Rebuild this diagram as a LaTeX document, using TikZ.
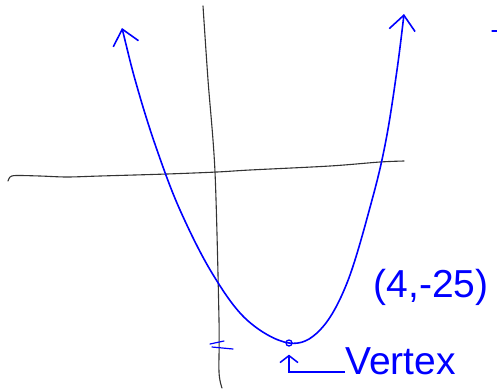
\documentclass[tikz,border=0pt]{standalone}
\usepackage{fontspec}
\setmainfont{Liberation Sans}
\usetikzlibrary{arrows.meta,positioning}

\begin{document}
\begin{tikzpicture}[
  x=1pt, y=-1pt,
  axis/.style={line width=1.1pt, black!80, line cap=round},
  curve/.style={line width=1.6pt, blue, line cap=round, line join=round},
  ends/.style={{Straight Barb[length=15pt,width=26pt]}-{Straight Barb[length=15pt,width=26pt]}},
  pointer/.style={-{Straight Barb[length=7pt,width=18pt]}, line width=1.5pt, blue},
  note/.style={blue, inner sep=0pt, font=\fontsize{39}{39}\selectfont},
  vdot/.style={circle, draw=blue, line width=1.3pt, minimum size=6pt, inner sep=0pt},
]
\useasboundingbox (0,0) rectangle (497,389);

% axes
\draw[axis] plot[smooth] coordinates {(8,181) (10,177) (16,175.5) (40,176) (67,177)
  (100,176) (167,174) (217,172) (250,170) (330,166) (380,162) (404,161)};
\draw[axis] plot[smooth] coordinates {(203,6) (208,80) (215,172)
  (219,320) (219,372) (222,388)};

% parabola with arrows at both ends
\draw[curve, ends] plot[smooth, tension=0.6] coordinates {(122,28) (138,90)
  (157,150) (180,210) (212,273) (247,320) (289,343) (320,330) (347,283)
  (372,200) (386,140) (397,70) (404,14)};

% vertex
\node[vdot] (vtx) at (289,343) {};
\node[note, anchor=base west] (lbl) at (345,374) {Vertex};
\node[note] (pt) at (431,287) {(4,-25)};
\draw[pointer] ([yshift=2pt]lbl.base west) -| (vtx.south) [shorten >=8pt];

% small marks
\draw[curve, line width=1.2pt] (210,344) -- (224,341) (212,347) -- (233,349);
\draw[curve, line width=1.2pt] (492,31) -- (497,31);
\end{tikzpicture}
\end{document}
